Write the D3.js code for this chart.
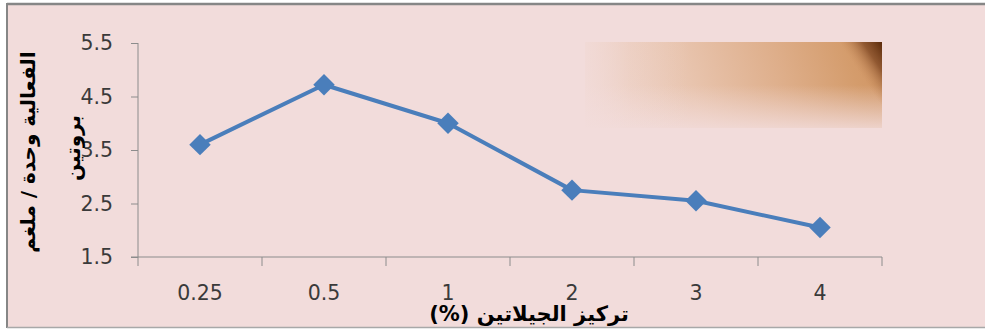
<!DOCTYPE html>
<html>
<head>
<meta charset="utf-8">
<script src="https://cdn.jsdelivr.net/npm/d3@7"></script>
<style>
  html, body { margin: 0; padding: 0; background: #ffffff; }
  svg { display: block; }
</style>
</head>
<body>
<svg id="chart" width="985" height="329"></svg>
<script>
// Gelatin concentration (%) and measured activity (unit / mg protein)
const categories = ["0.25", "0.5", "1", "2", "3", "4"];
const activity = [3.6, 4.72, 4.0, 2.75, 2.55, 2.05];
const yTicks = [1.5, 2.5, 3.5, 4.5, 5.5];
const yTitleLines = ["الفعالية وحدة / ملغم", "بروتين"];
const xTitle = "تركيز الجيلاتين (%)";

const W = 985, H = 329;
const plot = { left: 138, right: 882, top: 43, bottom: 257 };
const bg = "#F2DCDB";
const axisColor = "#8C8C8C";
const lineColor = "#4A7EBB";

const svg = d3.select("#chart");
const defs = svg.append("defs");

// chart frame
svg.append("rect").attr("x", 7).attr("y", 4).attr("width", W).attr("height", 324)
  .attr("fill", bg);
svg.append("line").attr("x1", 7).attr("x2", W).attr("y1", 4).attr("y2", 4)
  .attr("stroke", "#868686").attr("stroke-width", 2.5);
svg.append("line").attr("x1", 7).attr("x2", 7).attr("y1", 3).attr("y2", 328)
  .attr("stroke", "#868686").attr("stroke-width", 2);
svg.append("line").attr("x1", 7).attr("x2", W).attr("y1", 327.5).attr("y2", 327.5)
  .attr("stroke", "#A8A8A8").attr("stroke-width", 1.5);

// decorative shaded panel in the upper right of the plot
const panel = { x: 585, y: 42, w: 297, h: 86 };
function gradient(id, x1, y1, x2, y2, stops) {
  const g = defs.append("linearGradient").attr("id", id)
    .attr("gradientUnits", "userSpaceOnUse")
    .attr("x1", x1).attr("y1", y1).attr("x2", x2).attr("y2", y2);
  stops.forEach(([o, c, a]) => g.append("stop").attr("offset", o)
    .attr("stop-color", c).attr("stop-opacity", a));
}
const px0 = panel.x, px1 = panel.x + panel.w, py0 = panel.y, py1 = panel.y + panel.h;
gradient("panelBase", px0 + 10, py1, px1, py0, [
  [0, "#EFD5CC", 1], [0.35, "#E8C4AE", 1], [0.65, "#DEAE8A", 1], [0.88, "#D49C6C", 1], [1, "#D09462", 1]]);
gradient("panelFade", 0, py0, 0, py1, [
  [0, bg, 0], [0.5, bg, 0], [1, bg, 0.85]]);
gradient("panelLeft", px0, 0, px1, 0, [
  [0, bg, 0.75], [0.15, bg, 0.25], [0.35, bg, 0]]);
gradient("panelCorner", px1, py0, px1 - 30, py0 + 20, [
  [0, "#5A2A0A", 1], [0.45, "#7C4420", 0.75], [1, "#C68A5A", 0]]);
["panelBase", "panelFade", "panelLeft", "panelCorner"].forEach(id => {
  svg.append("rect").attr("x", panel.x).attr("y", panel.y)
    .attr("width", panel.w).attr("height", panel.h)
    .attr("fill", `url(#${id})`);
});

// scales
const x = d3.scaleBand().domain(categories).range([plot.left, plot.right]).padding(0);
const y = d3.scaleLinear().domain([1.5, 5.5]).range([plot.bottom, plot.top]);
const cx = d => x(d) + x.bandwidth() / 2;

// y axis
const yAxis = svg.append("g").attr("transform", `translate(${plot.left},0)`)
  .call(d3.axisLeft(y).tickValues(yTicks).tickSize(7).tickPadding(18)
    .tickFormat(d3.format(".1f")));
yAxis.select(".domain").attr("stroke", axisColor).attr("d", `M0,${plot.top}V${plot.bottom + 9}`);
yAxis.selectAll(".tick line").attr("stroke", axisColor);
yAxis.selectAll(".tick text")
  .attr("font-family", "DejaVu Sans").attr("font-size", 20.5).attr("fill", "#3A3A3A");

// x axis: category labels centred, tick marks on band edges
const xAxis = svg.append("g").attr("transform", `translate(0,${plot.bottom})`)
  .call(d3.axisBottom(x).tickSize(0).tickPadding(0));
xAxis.select(".domain").attr("stroke", axisColor).attr("d", `M${plot.left - 7},0H${plot.right}`);
xAxis.selectAll(".tick text")
  .attr("y", 43).attr("dy", 0)
  .attr("font-family", "DejaVu Sans").attr("font-size", 20.5).attr("fill", "#3A3A3A");
const edges = categories.map(c => x(c) + x.bandwidth());
xAxis.selectAll(".edge").data(edges).join("line").attr("class", "edge")
  .attr("x1", d => d).attr("x2", d => d).attr("y1", 0).attr("y2", 9)
  .attr("stroke", axisColor);

// series
const line = d3.line().x((d, i) => cx(categories[i])).y(d => y(d));
svg.append("path").datum(activity).attr("d", line)
  .attr("fill", "none").attr("stroke", lineColor).attr("stroke-width", 4)
  .attr("stroke-linejoin", "round");
const diamond = d3.symbol().type(d3.symbolSquare).size(230);
svg.selectAll(".marker").data(activity).join("path").attr("class", "marker")
  .attr("d", diamond)
  .attr("transform", (d, i) => `translate(${cx(categories[i])},${y(d)}) rotate(45)`)
  .attr("fill", lineColor);

// axis titles
const yTitle = svg.append("g");
[[35, 152, yTitleLines[0]], [80, 148, yTitleLines[1]]].forEach(([tx, ty, t]) => {
  yTitle.append("text")
    .attr("transform", `translate(${tx},${ty}) rotate(-90)`)
    .attr("direction", "rtl").attr("text-anchor", "middle")
    .attr("font-family", "DejaVu Sans").attr("font-weight", "bold")
    .attr("font-size", 20).attr("fill", "#000")
    .text(t);
});
svg.append("text")
  .attr("x", 529).attr("y", 321)
  .attr("direction", "rtl").attr("text-anchor", "middle")
  .attr("font-family", "DejaVu Sans").attr("font-weight", "bold")
  .attr("font-size", 21).attr("fill", "#000")
  .text(xTitle);
</script>
</body>
</html>
